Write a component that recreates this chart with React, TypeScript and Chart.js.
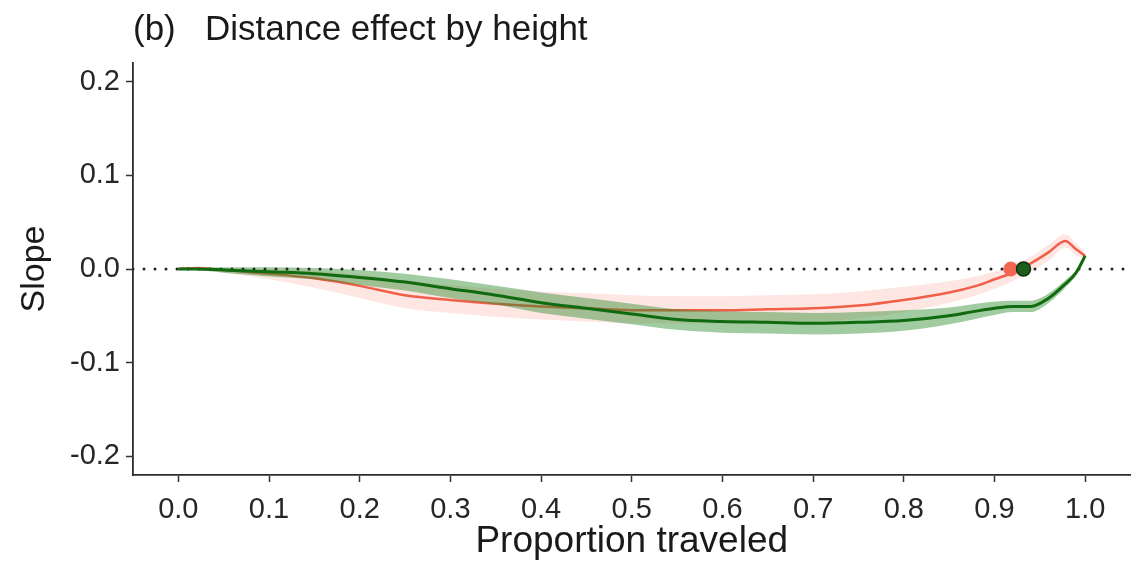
import React, { useEffect, useRef } from "react";
import { Chart, registerables } from "chart.js";
Chart.register(...registerables);

// Proportion traveled (x positions of the estimates)
const xs = [0, 0.02, 0.05, 0.1, 0.15, 0.2, 0.25, 0.3, 0.35, 0.4, 0.45, 0.5, 0.55, 0.6, 0.65, 0.7, 0.75, 0.8, 0.85, 0.88, 0.9, 0.92, 0.94, 0.96, 0.978, 0.99, 1.0];

// Red series (slope mean and ribbon)
const redMean = [0, 0.001, -0.001, -0.005, -0.010, -0.018, -0.028, -0.033, -0.037, -0.040, -0.042, -0.044, -0.044, -0.044, -0.043, -0.042, -0.039, -0.033, -0.025, -0.018, -0.011, -0.004, 0.006, 0.018, 0.030, 0.021, 0.014];
const redLow = [0, -0.001, -0.004, -0.011, -0.020, -0.031, -0.042, -0.047, -0.051, -0.054, -0.056, -0.058, -0.058, -0.058, -0.057, -0.056, -0.053, -0.046, -0.036, -0.028, -0.021, -0.013, -0.003, 0.009, 0.023, 0.015, 0.010];
const redHigh = [0, 0.002, 0.001, 0.000, -0.002, -0.006, -0.012, -0.017, -0.021, -0.024, -0.026, -0.028, -0.029, -0.029, -0.028, -0.027, -0.024, -0.019, -0.013, -0.008, -0.003, 0.004, 0.013, 0.026, 0.037, 0.027, 0.018];

// Green series (slope mean and ribbon)
const greenMean = [0, 0.000, -0.001, -0.003, -0.005, -0.009, -0.014, -0.021, -0.028, -0.036, -0.042, -0.048, -0.054, -0.056, -0.057, -0.058, -0.057, -0.055, -0.050, -0.045, -0.042, -0.040, -0.040, -0.031, -0.016, -0.004, 0.014];
const greenLow = [0, -0.001, -0.004, -0.008, -0.011, -0.017, -0.023, -0.031, -0.038, -0.047, -0.053, -0.059, -0.065, -0.068, -0.069, -0.070, -0.069, -0.066, -0.059, -0.053, -0.049, -0.046, -0.046, -0.036, -0.020, -0.007, 0.012];
const greenHigh = [0, 0.001, 0.002, 0.002, 0.001, -0.001, -0.005, -0.011, -0.018, -0.025, -0.031, -0.037, -0.043, -0.045, -0.046, -0.047, -0.046, -0.044, -0.041, -0.037, -0.035, -0.034, -0.034, -0.026, -0.012, -0.001, 0.016];

// Marker points on the zero line
const redMarker = { x: 0.918, y: 0 };
const greenMarker = { x: 0.932, y: 0 };

// Axis ticks
const xTicks = [0, 0.1, 0.2, 0.3, 0.4, 0.5, 0.6, 0.7, 0.8, 0.9, 1.0];
const yTicks = [-0.2, -0.1, 0, 0.1, 0.2];

const FONT = "'Liberation Sans', Arial, Helvetica, sans-serif";

export default function App() {
  const ref = useRef<HTMLCanvasElement>(null);

  useEffect(() => {
    const canvas = ref.current!;
    const pts = (ys: number[]) => xs.map((x, i) => ({ x, y: ys[i] }));

    const chart = new Chart(canvas, {
      type: "line",
      data: {
        datasets: [
          { label: "redLow", data: pts(redLow), borderWidth: 0, pointRadius: 0, fill: false, order: 10, cubicInterpolationMode: "monotone" },
          { label: "redHigh", data: pts(redHigh), borderWidth: 0, pointRadius: 0, fill: "-1", backgroundColor: "rgba(248,118,100,0.18)", order: 9, cubicInterpolationMode: "monotone" },
          { label: "red", data: pts(redMean), borderColor: "#ef5f4a", borderWidth: 2.5, pointRadius: 0, fill: false, order: 8, cubicInterpolationMode: "monotone" },
          { label: "greenLow", data: pts(greenLow), borderWidth: 0, pointRadius: 0, fill: false, order: 7, cubicInterpolationMode: "monotone" },
          { label: "greenHigh", data: pts(greenHigh), borderWidth: 0, pointRadius: 0, fill: "-1", backgroundColor: "rgba(40,140,40,0.44)", order: 6, cubicInterpolationMode: "monotone" },
          { label: "zero", data: [{ x: -0.05, y: 0 }, { x: 1.05, y: 0 }], borderColor: "#222", borderWidth: 3, borderDash: [0, 11], borderCapStyle: "round", pointRadius: 0, fill: false, order: 5 },
          { label: "green", data: pts(greenMean), borderColor: "#106a10", borderWidth: 3, pointRadius: 0, fill: false, order: 4, cubicInterpolationMode: "monotone" },
          { label: "redDot", data: [redMarker], showLine: false, pointRadius: 7, pointBackgroundColor: "#f26652", pointBorderColor: "#f26652", pointBorderWidth: 1, order: 2 },
          { label: "greenDot", data: [greenMarker], showLine: false, pointRadius: 7, pointBackgroundColor: "#1d5e1d", pointBorderColor: "#0f2f0f", pointBorderWidth: 1.5, order: 1 },
        ] as any,
      },
      options: {
        responsive: false,
        animation: false,
        devicePixelRatio: 1,
        layout: { padding: { left: 0, right: 0, top: 0, bottom: 0 } },
        plugins: {
          legend: { display: false },
          tooltip: { enabled: false },
          title: {
            display: true,
            text: "(b)   Distance effect by height",
            align: "start",
            fullSize: false,
            color: "#1a1a1a",
            font: { family: FONT, size: 35, weight: "normal", lineHeight: 1.2 },
            padding: { top: 9, bottom: 12 },
          },
        },
        scales: {
          x: {
            type: "linear",
            min: -0.05,
            max: 1.05,
            afterBuildTicks: (scale: any) => { scale.ticks = xTicks.map((v) => ({ value: v })); },
            afterFit: (scale: any) => { scale.height = 88; scale.paddingLeft = 0; scale.paddingRight = 0; },
            ticks: {
              color: "#262626",
              font: { family: FONT, size: 29 },
              padding: 11,
              maxRotation: 0,
              autoSkip: false,
              callback: (v: any) => Number(v).toFixed(1),
            },
            grid: { display: true, drawOnChartArea: false, drawTicks: true, tickLength: 7, tickWidth: 1.5, tickColor: "#333" },
            border: { display: true, color: "#2b2b2b", width: 1.8 },
            title: {
              display: true,
              text: "Proportion traveled",
              color: "#1a1a1a",
              font: { family: FONT, size: 37, weight: "normal", lineHeight: 1.15 },
              padding: { top: 0, bottom: 0 },
            },
          },
          y: {
            type: "linear",
            min: -0.22,
            max: 0.22,
            afterBuildTicks: (scale: any) => { scale.ticks = yTicks.map((v) => ({ value: v })); },
            afterFit: (scale: any) => { scale.width = 133; },
            ticks: {
              color: "#262626",
              font: { family: FONT, size: 29 },
              padding: 6,
              autoSkip: false,
              callback: (v: any) => Number(v).toFixed(1),
            },
            grid: { display: true, drawOnChartArea: false, drawTicks: true, tickLength: 7, tickWidth: 1.5, tickColor: "#333" },
            border: { display: true, color: "#2b2b2b", width: 1.8 },
            title: {
              display: true,
              text: "Slope",
              color: "#1a1a1a",
              font: { family: FONT, size: 34, weight: "normal", lineHeight: 1.2 },
              padding: { top: 14, bottom: 0 },
            },
          },
        },
      } as any,
    });

    return () => chart.destroy();
  }, []);

  return (
    <div style={{ position: "absolute", left: 0, top: 0, width: 1139, height: 563, background: "#fff" }}>
      <canvas ref={ref} width={1139} height={563} style={{ width: "1139px", height: "563px", display: "block" }} />
    </div>
  );
}
